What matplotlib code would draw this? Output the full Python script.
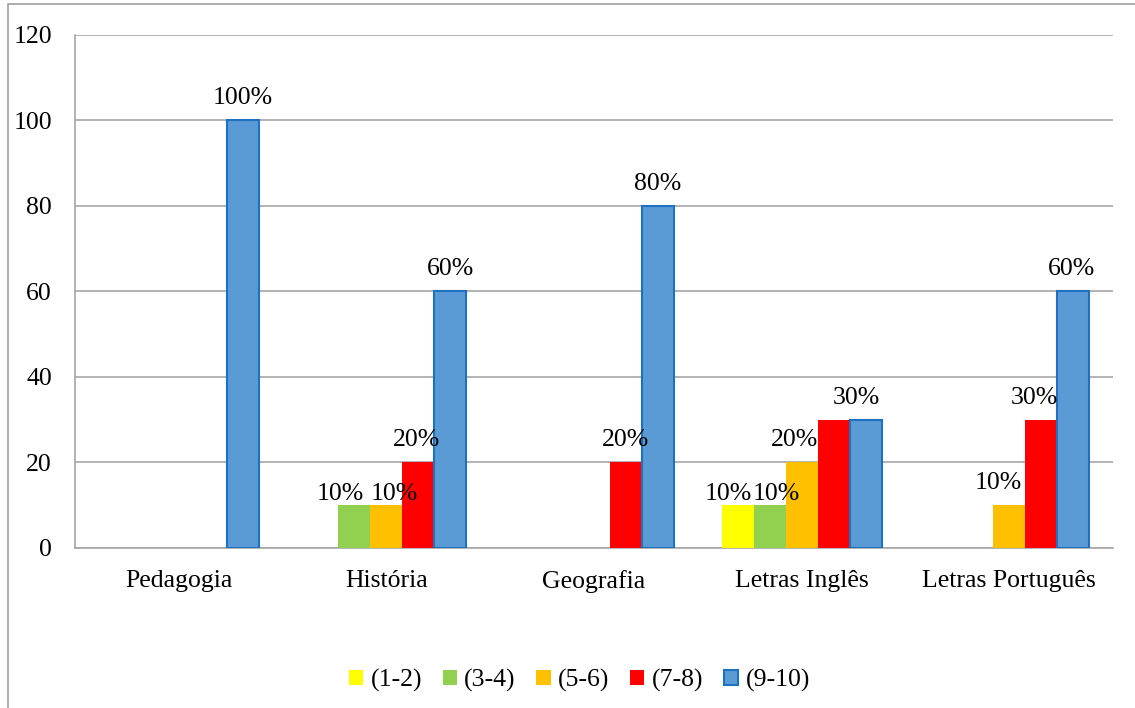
import numpy as np
import matplotlib.pyplot as plt
from matplotlib.patches import Rectangle

cursos = ['Pedagogia', 'História', 'Geografia', 'Letras Inglês', 'Letras Português']
faixas = ['(1-2)', '(3-4)', '(5-6)', '(7-8)', '(9-10)']
notas_1_2 = [0, 0, 0, 10, 0]
notas_3_4 = [0, 10, 0, 10, 0]
notas_5_6 = [0, 10, 0, 20, 10]
notas_7_8 = [0, 20, 20, 30, 30]
notas_9_10 = [100, 60, 80, 30, 60]
cores = ['#FFFF00', '#92D050', '#FFC000', '#FF0000', '#5B9BD5']
bordas = ['none', 'none', 'none', 'none', '#1F70C0']

series = [notas_1_2, notas_3_4, notas_5_6, notas_7_8, notas_9_10]

# label nudges in pixels (dx, dy), keyed by (curso index, faixa index)
ajustes = {
    (1, 1): (-14, -11), (1, 2): (8, -11), (1, 3): (-2, 0),
    (3, 0): (-9, -11), (3, 1): (7, -11), (3, 2): (-7, 0), (3, 4): (-9, 0),
    (4, 2): (-11, 0), (4, 3): (-7, 0), (4, 4): (-2, 0),
}
ocultos = {(3, 3)}  # the two 30% labels in Letras Inglês collapse into one

FS = 18.5
plt.rcParams['font.family'] = ['Liberation Serif', 'DejaVu Serif']

fig = plt.figure(figsize=(11.35, 7.08), dpi=100)
ax = fig.add_axes([0.0661, 0.226, 0.9145, 0.7246])

# outer chart frame (only left/top edges fall inside the image)
fig.patches.append(Rectangle((8 / 1135, -0.1), 1.2, 1.1 - 4 / 708,
                             transform=fig.transFigure, fill=False,
                             edgecolor='#A0A0A0', linewidth=1.2))

x = np.arange(len(cursos))
w = 0.154
for i, (vals, cor, borda, nome) in enumerate(zip(series, cores, bordas, faixas)):
    pos = x + (i - 2) * w
    lw = 1.5 if borda != 'none' else 0
    ax.bar(pos, vals, w, color=cor, edgecolor=borda, linewidth=lw, label=nome, zorder=3)
    for j, (p, v) in enumerate(zip(pos, vals)):
        if v == 0 or (j, i) in ocultos:
            continue
        dx, dy = ajustes.get((j, i), (0, 0))
        ax.annotate(f'{v}%', (p, v), xytext=(dx * 0.72, (16 + dy) * 0.72),
                    textcoords='offset points', ha='center', va='baseline',
                    fontsize=FS, zorder=6)

ax.set_xlim(-0.5, len(cursos) - 0.5)
ax.set_ylim(0, 120)
ax.set_yticks(range(0, 121, 20))
ax.set_xticks(x)
ax.set_xticklabels(cursos)
ax.tick_params(axis='both', length=0, labelsize=FS)
ax.tick_params(axis='y', pad=16.5)
ax.tick_params(axis='x', pad=16)
ax.grid(axis='y', color='#A6A6A6', linewidth=1.2, zorder=0)
for s in ['top', 'right']:
    ax.spines[s].set_visible(False)
for s in ['left', 'bottom']:
    ax.spines[s].set_color('#A6A6A6')
    ax.spines[s].set_linewidth(1.2)

ax.legend(loc='center', bbox_to_anchor=(0.486, -0.258), ncol=5, frameon=False,
          fontsize=FS, handlelength=0.55, handleheight=0.55, handletextpad=0.3,
          columnspacing=0.8)

fig.savefig('out.png', dpi=100)
